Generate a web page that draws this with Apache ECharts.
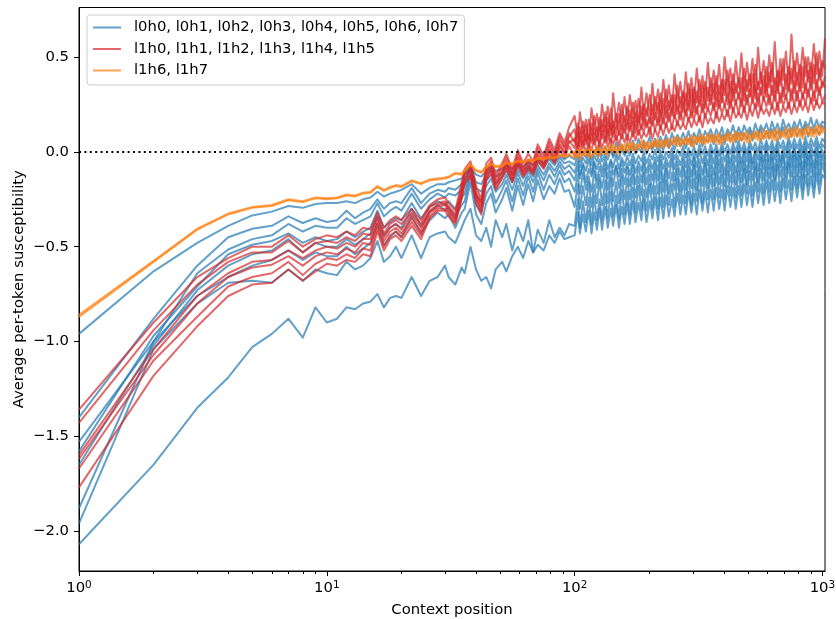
<!DOCTYPE html>
<html><head><meta charset="utf-8">
<script src="https://cdn.jsdelivr.net/npm/echarts@6/dist/echarts.min.js"></script>
<style>html,body{margin:0;padding:0;background:#fff}#c{width:836px;height:619px}</style>
</head><body><div id="c"></div><script>
// Context positions (shared by every series)
const X = [1,2,3,4,5,6,7,8,9,10,11,12,13,14,15,16,17,18,19,20,22,24,26,28,
  30,31,33,35,36,38,40,42,44,46,48,51,53,56,59,62,65,68,71,75,79,83,87,91,95,
  100,103,105,108,111,114,117,120,123,126,129,133,136,140,143,147,151,155,159,163,
  167,172,176,181,186,190,195,201,206,211,217,222,228,234,240,247,253,260,267,274,
  281,288,296,303,311,319,328,336,345,354,364,373,383,393,403,414,425,436,447,459,
  471,483,496,509,522,536,550,564,579,594,610,626,642,659,676,694,712,731,750,770,
  790,811,832,854,876,899,923,947,972,998,1024];

// Layer 0 heads (blue)
const l0_a = [-0.96,-0.63,-0.48,-0.39,-0.335,-0.315,-0.285,-0.295,-0.275,-0.27,-0.27,-0.26,-0.27,-0.25,-0.24,-0.21,-0.235,-0.22,-0.21,-0.20,-0.17,-0.22,-0.19,-0.17,
  -0.17,-0.16,-0.15,-0.14,-0.12,-0.08,-0.12,-0.13,-0.10,-0.08,-0.10,-0.09,-0.07,-0.09,-0.06,-0.08,-0.05,-0.07,-0.04,-0.06,-0.03,-0.05,-0.02,-0.04,-0.02,
  -0.04,0.01,-0.05,0.0,-0.03,0.02,-0.04,0.01,-0.02,0.03,-0.02,0.03,-0.01,0.04,-0.02,0.05,0.0,0.04,-0.01,0.05,
  0.01,0.06,0.0,0.07,0.02,0.06,0.03,0.08,0.02,0.07,0.03,0.08,0.04,0.09,0.03,0.10,0.05,0.09,0.06,0.10,
  0.06,0.11,0.05,0.10,0.07,0.12,0.06,0.11,0.08,0.12,0.07,0.12,0.08,0.13,0.07,0.12,0.09,0.14,0.08,0.13,
  0.09,0.14,0.10,0.13,0.09,0.15,0.10,0.14,0.11,0.15,0.10,0.16,0.11,0.15,0.10,0.17,0.12,0.15,0.11,0.16,
  0.12,0.17,0.11,0.16,0.13,0.18,0.12,0.17,0.13,0.16,0.15];
const l0_b = [-1.40,-0.88,-0.60,-0.45,-0.405,-0.39,-0.34,-0.375,-0.35,-0.37,-0.36,-0.31,-0.35,-0.32,-0.30,-0.25,-0.30,-0.27,-0.26,-0.27,-0.19,-0.27,-0.22,-0.20,
  -0.21,-0.19,-0.20,-0.17,-0.15,-0.08,-0.16,-0.17,-0.12,-0.10,-0.13,-0.11,-0.08,-0.12,-0.07,-0.10,-0.06,-0.11,-0.05,-0.08,-0.04,-0.07,-0.03,-0.06,-0.05,
  -0.07,-0.02,-0.08,-0.03,-0.06,-0.01,-0.07,-0.02,-0.05,0.0,-0.05,-0.01,-0.04,0.01,-0.03,0.0,-0.04,0.02,-0.02,0.01,
  -0.02,0.03,-0.01,0.02,0.0,0.04,-0.01,0.03,0.01,0.05,0.0,0.04,0.01,0.06,0.02,0.05,0.01,0.07,0.03,0.06,
  0.02,0.07,0.03,0.06,0.04,0.08,0.03,0.07,0.05,0.09,0.04,0.08,0.05,0.09,0.04,0.10,0.06,0.09,0.05,0.10,
  0.06,0.10,0.07,0.11,0.06,0.10,0.08,0.12,0.07,0.11,0.07,0.12,0.08,0.11,0.07,0.13,0.09,0.12,0.08,0.13,
  0.08,0.12,0.09,0.14,0.08,0.13,0.10,0.12,0.09,0.14,0.11];
const l0_c = [-1.53,-1.00,-0.64,-0.515,-0.46,-0.44,-0.38,-0.42,-0.39,-0.40,-0.40,-0.35,-0.38,-0.36,-0.34,-0.27,-0.34,-0.31,-0.29,-0.31,-0.22,-0.30,-0.25,-0.22,
  -0.24,-0.22,-0.23,-0.20,-0.18,-0.07,-0.19,-0.21,-0.15,-0.12,-0.17,-0.13,-0.10,-0.16,-0.09,-0.14,-0.08,-0.13,-0.07,-0.12,-0.06,-0.10,-0.05,-0.09,-0.07,
  -0.11,-0.05,-0.12,-0.06,-0.10,-0.04,-0.11,-0.05,-0.09,-0.04,-0.10,-0.03,-0.09,-0.04,-0.08,-0.02,-0.09,-0.03,-0.07,-0.02,
  -0.07,-0.01,-0.06,-0.02,-0.05,0.0,-0.06,-0.01,-0.04,0.01,-0.05,0.01,-0.04,0.0,-0.03,0.02,-0.04,0.01,-0.02,0.03,
  -0.03,0.02,-0.02,0.03,-0.03,0.04,-0.01,0.03,-0.02,0.04,-0.01,0.04,-0.02,0.05,0.0,0.04,-0.01,0.05,0.0,0.06,
  0.0,0.05,-0.01,0.06,0.01,0.05,0.0,0.07,0.01,0.06,0.01,0.06,0.0,0.07,0.02,0.06,0.01,0.08,0.02,0.07,
  0.02,0.07,0.01,0.08,0.02,0.07,0.03,0.08,0.02,0.07,0.05];
const l0_d = [-1.58,-0.97,-0.71,-0.54,-0.49,-0.47,-0.43,-0.48,-0.45,-0.47,-0.46,-0.42,-0.45,-0.42,-0.40,-0.31,-0.40,-0.37,-0.35,-0.36,-0.27,-0.35,-0.29,-0.26,
  -0.28,-0.26,-0.30,-0.24,-0.22,-0.10,-0.23,-0.26,-0.18,-0.14,-0.21,-0.17,-0.12,-0.20,-0.11,-0.18,-0.10,-0.16,-0.09,-0.15,-0.08,-0.13,-0.07,-0.12,-0.10,
  -0.15,-0.08,-0.14,-0.07,-0.16,-0.09,-0.13,-0.06,-0.15,-0.08,-0.13,-0.06,-0.14,-0.05,-0.12,-0.07,-0.13,-0.05,-0.11,-0.06,
  -0.12,-0.04,-0.11,-0.05,-0.10,-0.03,-0.11,-0.04,-0.09,-0.03,-0.10,-0.02,-0.09,-0.03,-0.08,-0.01,-0.09,-0.02,-0.07,-0.01,
  -0.08,0.0,-0.07,-0.01,-0.08,0.01,-0.06,0.0,-0.07,0.01,-0.06,0.01,-0.07,0.02,-0.05,0.01,-0.06,0.02,-0.05,0.03,
  -0.06,0.02,-0.05,0.03,-0.06,0.02,-0.04,0.03,-0.05,0.04,-0.05,0.03,-0.04,0.04,-0.05,0.03,-0.03,0.05,-0.04,0.04,
  -0.04,0.04,-0.03,0.05,-0.04,0.04,-0.02,0.05,-0.03,0.04,0.02];
const l0_e = [-1.65,-1.02,-0.73,-0.60,-0.54,-0.52,-0.46,-0.53,-0.48,-0.50,-0.50,-0.46,-0.49,-0.46,-0.43,-0.34,-0.44,-0.40,-0.38,-0.40,-0.30,-0.39,-0.32,-0.28,
  -0.31,-0.29,-0.34,-0.28,-0.26,-0.12,-0.28,-0.32,-0.22,-0.18,-0.27,-0.20,-0.15,-0.26,-0.14,-0.23,-0.13,-0.21,-0.11,-0.20,-0.12,-0.17,-0.10,-0.16,-0.14,
  -0.21,-0.12,-0.22,-0.11,-0.20,-0.13,-0.21,-0.10,-0.19,-0.12,-0.19,-0.09,-0.20,-0.10,-0.18,-0.08,-0.19,-0.09,-0.17,-0.08,
  -0.18,-0.07,-0.17,-0.08,-0.16,-0.06,-0.17,-0.07,-0.15,-0.06,-0.15,-0.05,-0.16,-0.06,-0.14,-0.04,-0.15,-0.05,-0.13,-0.04,
  -0.14,-0.04,-0.13,-0.03,-0.14,-0.04,-0.12,-0.03,-0.13,-0.02,-0.12,-0.02,-0.11,-0.03,-0.12,-0.01,-0.10,-0.02,-0.11,-0.01,
  -0.10,-0.01,-0.11,0.0,-0.09,-0.01,-0.10,0.0,-0.09,0.01,-0.09,0.0,-0.10,0.01,-0.08,0.0,-0.09,0.01,-0.08,0.02,
  -0.08,0.01,-0.09,0.02,-0.07,0.01,-0.08,0.02,-0.07,0.01,-0.04];
const l0_f = [-1.88,-1.00,-0.76,-0.66,-0.60,-0.57,-0.52,-0.57,-0.53,-0.55,-0.55,-0.50,-0.54,-0.51,-0.48,-0.38,-0.49,-0.45,-0.42,-0.45,-0.34,-0.43,-0.36,-0.32,
  -0.35,-0.33,-0.40,-0.32,-0.30,-0.16,-0.33,-0.38,-0.27,-0.22,-0.32,-0.25,-0.19,-0.31,-0.18,-0.28,-0.17,-0.26,-0.15,-0.25,-0.18,-0.22,-0.14,-0.21,-0.20,
  -0.29,-0.17,-0.30,-0.18,-0.28,-0.16,-0.29,-0.17,-0.27,-0.15,-0.28,-0.15,-0.27,-0.14,-0.26,-0.16,-0.27,-0.13,-0.25,-0.14,
  -0.25,-0.12,-0.24,-0.13,-0.23,-0.11,-0.24,-0.12,-0.22,-0.10,-0.22,-0.10,-0.21,-0.09,-0.22,-0.11,-0.20,-0.09,-0.21,-0.08,
  -0.20,-0.08,-0.19,-0.07,-0.20,-0.08,-0.18,-0.06,-0.19,-0.07,-0.18,-0.06,-0.17,-0.07,-0.18,-0.05,-0.16,-0.06,-0.17,-0.05,
  -0.16,-0.05,-0.17,-0.04,-0.15,-0.05,-0.16,-0.03,-0.15,-0.04,-0.14,-0.03,-0.15,-0.04,-0.13,-0.02,-0.14,-0.03,-0.13,-0.02,
  -0.13,-0.02,-0.14,-0.01,-0.12,-0.02,-0.13,-0.01,-0.12,-0.02,-0.08];
const l0_g = [-1.96,-1.04,-0.80,-0.69,-0.68,-0.69,-0.62,-0.68,-0.62,-0.64,-0.65,-0.58,-0.62,-0.60,-0.56,-0.47,-0.58,-0.55,-0.50,-0.56,-0.44,-0.56,-0.45,-0.43,
  -0.42,-0.45,-0.48,-0.40,-0.36,-0.30,-0.44,-0.47,-0.40,-0.50,-0.36,-0.45,-0.38,-0.52,-0.40,-0.47,-0.36,-0.53,-0.41,-0.48,-0.36,-0.45,-0.40,-0.44,-0.38,
  -0.39,-0.25,-0.40,-0.26,-0.37,-0.24,-0.38,-0.23,-0.36,-0.25,-0.36,-0.22,-0.35,-0.21,-0.34,-0.23,-0.35,-0.20,-0.33,-0.21,
  -0.33,-0.19,-0.32,-0.18,-0.31,-0.20,-0.31,-0.17,-0.30,-0.18,-0.30,-0.16,-0.29,-0.15,-0.28,-0.17,-0.29,-0.14,-0.27,-0.15,
  -0.27,-0.13,-0.28,-0.14,-0.26,-0.12,-0.27,-0.13,-0.25,-0.12,-0.25,-0.11,-0.24,-0.12,-0.25,-0.10,-0.23,-0.11,-0.24,-0.10,
  -0.23,-0.09,-0.22,-0.10,-0.23,-0.08,-0.21,-0.09,-0.22,-0.08,-0.21,-0.08,-0.20,-0.07,-0.21,-0.08,-0.19,-0.06,-0.20,-0.07,
  -0.19,-0.06,-0.20,-0.05,-0.18,-0.06,-0.19,-0.05,-0.17,-0.06,-0.12];
const l0_h = [-2.07,-1.65,-1.35,-1.19,-1.03,-0.96,-0.88,-0.98,-0.82,-0.90,-0.88,-0.82,-0.83,-0.80,-0.79,-0.75,-0.82,-0.77,-0.76,-0.77,-0.66,-0.76,-0.68,-0.66,
  -0.60,-0.66,-0.70,-0.61,-0.64,-0.50,-0.62,-0.68,-0.66,-0.72,-0.62,-0.58,-0.63,-0.55,-0.50,-0.56,-0.47,-0.53,-0.49,-0.52,-0.44,-0.48,-0.42,-0.46,-0.45,
  -0.44,-0.32,-0.43,-0.33,-0.42,-0.31,-0.43,-0.32,-0.41,-0.30,-0.41,-0.29,-0.40,-0.30,-0.39,-0.28,-0.40,-0.29,-0.38,-0.27,
  -0.38,-0.26,-0.37,-0.27,-0.36,-0.25,-0.37,-0.26,-0.35,-0.24,-0.36,-0.24,-0.35,-0.23,-0.34,-0.25,-0.34,-0.22,-0.33,-0.23,
  -0.33,-0.21,-0.32,-0.22,-0.33,-0.20,-0.31,-0.21,-0.32,-0.20,-0.31,-0.19,-0.30,-0.20,-0.31,-0.18,-0.29,-0.19,-0.30,-0.18,
  -0.29,-0.17,-0.28,-0.18,-0.29,-0.16,-0.27,-0.17,-0.28,-0.15,-0.27,-0.15,-0.26,-0.16,-0.27,-0.14,-0.25,-0.15,-0.26,-0.13,
  -0.24,-0.13,-0.25,-0.12,-0.23,-0.13,-0.24,-0.11,-0.22,-0.12,-0.14];

// Layer 1 heads 0-5 (red)
const l1_a = [-1.36,-0.90,-0.66,-0.56,-0.50,-0.50,-0.44,-0.50,-0.46,-0.44,-0.45,-0.42,-0.44,-0.40,-0.41,-0.32,-0.40,-0.36,-0.34,-0.36,-0.30,-0.36,-0.28,-0.25,
  -0.24,-0.27,-0.31,-0.16,-0.09,-0.05,-0.18,-0.25,-0.06,-0.03,-0.12,-0.06,-0.01,-0.09,0.01,-0.06,-0.01,-0.05,0.04,-0.02,0.07,0.01,0.10,0.05,0.13,
  0.19,0.08,0.21,0.10,0.17,0.07,0.23,0.12,0.20,0.11,0.25,0.13,0.24,0.12,0.31,0.16,0.26,0.15,0.29,0.17,
  0.30,0.18,0.27,0.16,0.34,0.20,0.31,0.19,0.36,0.22,0.33,0.21,0.38,0.24,0.35,0.22,0.41,0.26,0.37,0.25,
  0.42,0.27,0.39,0.26,0.44,0.29,0.40,0.28,0.47,0.30,0.43,0.31,0.46,0.30,0.50,0.33,0.44,0.32,0.48,0.34,
  0.52,0.33,0.47,0.35,0.49,0.32,0.55,0.36,0.48,0.34,0.51,0.37,0.58,0.35,0.49,0.38,0.53,0.36,0.62,0.39,
  0.52,0.38,0.55,0.40,0.50,0.39,0.57,0.41,0.53,0.40,0.60];
const l1_b = [-1.43,-0.94,-0.70,-0.58,-0.53,-0.53,-0.47,-0.53,-0.48,-0.47,-0.48,-0.45,-0.47,-0.43,-0.44,-0.34,-0.43,-0.38,-0.36,-0.38,-0.32,-0.38,-0.29,-0.27,
  -0.26,-0.29,-0.33,-0.19,-0.11,-0.07,-0.21,-0.27,-0.09,-0.05,-0.14,-0.08,-0.03,-0.11,-0.01,-0.08,-0.04,-0.07,0.02,-0.04,0.05,-0.01,0.08,0.03,0.10,
  0.05,0.15,0.07,0.16,0.06,0.17,0.09,0.19,0.08,0.18,0.11,0.21,0.10,0.23,0.13,0.20,0.12,0.25,0.14,0.24,
  0.15,0.26,0.16,0.28,0.17,0.25,0.19,0.30,0.18,0.29,0.20,0.31,0.19,0.33,0.22,0.30,0.21,0.35,0.23,0.32,
  0.24,0.36,0.23,0.34,0.26,0.38,0.25,0.37,0.27,0.39,0.28,0.40,0.27,0.38,0.30,0.43,0.29,0.41,0.31,0.39,
  0.30,0.44,0.32,0.41,0.29,0.46,0.33,0.42,0.31,0.45,0.34,0.47,0.32,0.43,0.35,0.49,0.33,0.45,0.36,0.48,
  0.35,0.46,0.34,0.50,0.37,0.47,0.36,0.52,0.38,0.48,0.44];
const l1_c = [-1.60,-1.04,-0.76,-0.64,-0.58,-0.57,-0.52,-0.56,-0.52,-0.50,-0.51,-0.48,-0.50,-0.46,-0.46,-0.36,-0.45,-0.40,-0.38,-0.41,-0.33,-0.40,-0.31,-0.28,
  -0.27,-0.30,-0.35,-0.21,-0.12,-0.09,-0.23,-0.28,-0.11,-0.06,-0.16,-0.10,-0.05,-0.12,-0.03,-0.10,-0.05,-0.09,0.0,-0.06,0.03,-0.03,0.06,0.02,0.08,
  0.12,0.03,0.13,0.05,0.14,0.04,0.15,0.07,0.13,0.06,0.17,0.08,0.18,0.09,0.16,0.10,0.20,0.11,0.19,0.12,
  0.22,0.12,0.21,0.13,0.24,0.14,0.23,0.15,0.25,0.17,0.26,0.16,0.28,0.18,0.27,0.19,0.30,0.20,0.29,0.21,
  0.31,0.22,0.33,0.21,0.32,0.24,0.35,0.23,0.34,0.25,0.36,0.24,0.35,0.26,0.38,0.25,0.37,0.27,0.36,0.28,
  0.39,0.27,0.38,0.29,0.41,0.28,0.37,0.30,0.40,0.29,0.42,0.30,0.39,0.31,0.43,0.29,0.41,0.32,0.44,0.31,
  0.42,0.32,0.45,0.31,0.43,0.33,0.46,0.32,0.44,0.34,0.40];
const l1_d = [-1.62,-1.07,-0.80,-0.66,-0.61,-0.595,-0.55,-0.60,-0.55,-0.53,-0.54,-0.51,-0.53,-0.48,-0.49,-0.38,-0.47,-0.42,-0.40,-0.43,-0.35,-0.42,-0.32,-0.29,
  -0.28,-0.31,-0.36,-0.22,-0.14,-0.10,-0.24,-0.30,-0.12,-0.08,-0.17,-0.11,-0.06,-0.14,-0.04,-0.11,-0.07,-0.10,-0.02,-0.07,0.01,-0.04,0.04,0.0,0.06,
  0.02,0.10,0.03,0.11,0.04,0.09,0.05,0.12,0.06,0.13,0.07,0.14,0.06,0.15,0.08,0.16,0.09,0.14,0.10,0.17,
  0.11,0.18,0.10,0.19,0.12,0.20,0.13,0.18,0.14,0.21,0.14,0.22,0.15,0.24,0.16,0.23,0.18,0.25,0.17,0.26,
  0.19,0.27,0.18,0.28,0.20,0.29,0.21,0.27,0.22,0.30,0.22,0.31,0.23,0.30,0.24,0.32,0.23,0.33,0.25,0.31,
  0.24,0.34,0.25,0.33,0.26,0.35,0.24,0.34,0.27,0.36,0.25,0.35,0.27,0.37,0.26,0.34,0.28,0.36,0.27,0.38,
  0.27,0.37,0.28,0.36,0.29,0.39,0.27,0.38,0.30,0.37,0.34];
const l1_e = [-1.67,-1.10,-0.87,-0.71,-0.66,-0.64,-0.58,-0.65,-0.59,-0.56,-0.57,-0.54,-0.56,-0.51,-0.52,-0.40,-0.50,-0.44,-0.42,-0.45,-0.37,-0.44,-0.34,-0.30,
  -0.30,-0.32,-0.37,-0.24,-0.15,-0.12,-0.25,-0.31,-0.14,-0.09,-0.19,-0.13,-0.07,-0.15,-0.06,-0.12,-0.08,-0.11,-0.03,-0.08,0.0,-0.05,0.03,-0.01,0.05,
  0.07,0.01,0.08,0.02,0.09,0.01,0.10,0.04,0.08,0.03,0.11,0.05,0.12,0.04,0.13,0.06,0.11,0.07,0.14,0.06,
  0.15,0.08,0.16,0.09,0.14,0.10,0.17,0.09,0.18,0.11,0.19,0.12,0.18,0.13,0.21,0.12,0.20,0.14,0.22,0.15,
  0.23,0.16,0.22,0.17,0.24,0.16,0.25,0.18,0.23,0.19,0.26,0.18,0.27,0.20,0.25,0.19,0.28,0.21,0.27,0.20,
  0.29,0.21,0.30,0.22,0.28,0.23,0.31,0.22,0.29,0.24,0.30,0.23,0.32,0.22,0.31,0.24,0.30,0.23,0.33,0.24,
  0.32,0.24,0.31,0.25,0.33,0.26,0.32,0.25,0.34,0.26,0.30];
const l1_f = [-1.77,-1.18,-0.92,-0.76,-0.70,-0.69,-0.62,-0.68,-0.63,-0.59,-0.60,-0.57,-0.58,-0.54,-0.55,-0.42,-0.52,-0.46,-0.44,-0.47,-0.39,-0.46,-0.35,-0.31,
  -0.31,-0.34,-0.38,-0.25,-0.17,-0.13,-0.27,-0.33,-0.15,-0.11,-0.20,-0.14,-0.09,-0.16,-0.07,-0.13,-0.09,-0.12,-0.05,-0.09,-0.02,-0.06,0.01,-0.03,0.03,
  -0.02,0.05,-0.01,0.06,0.0,0.04,0.01,0.07,0.0,0.06,0.02,0.08,0.03,0.07,0.04,0.09,0.03,0.10,0.05,0.09,
  0.05,0.11,0.06,0.12,0.07,0.10,0.08,0.13,0.07,0.12,0.08,0.14,0.09,0.15,0.10,0.14,0.11,0.16,0.12,0.15,
  0.12,0.18,0.13,0.17,0.14,0.19,0.13,0.20,0.15,0.18,0.15,0.21,0.16,0.20,0.17,0.22,0.16,0.23,0.18,0.21,
  0.18,0.24,0.17,0.23,0.19,0.25,0.18,0.24,0.20,0.23,0.19,0.25,0.20,0.26,0.19,0.24,0.21,0.26,0.20,0.25,
  0.21,0.27,0.22,0.26,0.21,0.28,0.22,0.27,0.23,0.26,0.25];

// Layer 1 heads 6-7 (orange)
const l1_g = [-0.87,-0.58,-0.41,-0.33,-0.295,-0.285,-0.255,-0.265,-0.245,-0.25,-0.245,-0.23,-0.235,-0.22,-0.215,-0.185,-0.205,-0.19,-0.18,-0.185,-0.155,-0.17,-0.15,-0.145,
  -0.14,-0.135,-0.115,-0.12,-0.10,-0.07,-0.10,-0.11,-0.08,-0.065,-0.08,-0.075,-0.06,-0.065,-0.05,-0.055,-0.045,-0.05,-0.035,-0.04,-0.03,-0.035,-0.02,-0.025,-0.015,
  -0.03,0.01,-0.04,0.01,-0.02,0.02,-0.03,0.01,-0.02,0.02,-0.01,0.03,-0.02,0.04,0.0,0.03,-0.01,0.04,0.0,0.05,
  0.01,0.05,0.0,0.04,0.02,0.06,0.01,0.05,0.02,0.06,0.02,0.06,0.03,0.07,0.02,0.06,0.04,0.08,0.03,0.07,
  0.04,0.07,0.03,0.08,0.05,0.09,0.04,0.08,0.05,0.09,0.05,0.09,0.04,0.08,0.06,0.10,0.05,0.09,0.06,0.10,
  0.06,0.10,0.05,0.09,0.07,0.11,0.06,0.10,0.07,0.11,0.07,0.11,0.06,0.12,0.08,0.11,0.07,0.12,0.08,0.13,
  0.08,0.12,0.07,0.13,0.09,0.12,0.08,0.14,0.09,0.13,0.11];
const l1_h = [-0.86,-0.575,-0.405,-0.325,-0.29,-0.28,-0.25,-0.26,-0.24,-0.245,-0.24,-0.225,-0.23,-0.215,-0.21,-0.18,-0.20,-0.185,-0.175,-0.18,-0.15,-0.165,-0.145,-0.14,
  -0.135,-0.13,-0.11,-0.115,-0.095,-0.065,-0.095,-0.105,-0.075,-0.06,-0.075,-0.07,-0.055,-0.06,-0.045,-0.05,-0.04,-0.045,-0.03,-0.035,-0.025,-0.03,-0.015,-0.02,-0.01,
  0.0,-0.03,0.02,-0.02,0.01,-0.03,0.02,-0.01,0.03,-0.02,0.02,-0.01,0.03,0.0,0.04,-0.01,0.03,0.01,0.04,0.0,
  0.05,0.01,0.04,0.02,0.06,0.01,0.05,0.02,0.06,0.03,0.07,0.02,0.06,0.03,0.07,0.04,0.08,0.03,0.07,0.04,
  0.08,0.04,0.09,0.03,0.08,0.05,0.09,0.04,0.10,0.05,0.09,0.05,0.10,0.04,0.09,0.06,0.10,0.05,0.11,0.06,
  0.10,0.06,0.11,0.05,0.10,0.07,0.11,0.06,0.12,0.07,0.11,0.07,0.12,0.06,0.11,0.08,0.13,0.07,0.12,0.08,
  0.13,0.08,0.12,0.09,0.14,0.08,0.13,0.09,0.14,0.10,0.12];

// Tick labels
const xMajor = [1, 10, 100, 1000];
const xMinor = [2,3,4,5,6,7,8,9,20,30,40,50,60,70,80,90,200,300,400,500,600,700,800,900];
const yTicks = [-2, -1.5, -1, -0.5, 0, 0.5];
const legendNames = ['l0h0, l0h1, l0h2, l0h3, l0h4, l0h5, l0h6, l0h7', 'l1h0, l1h1, l1h2, l1h3, l1h4, l1h5', 'l1h6, l1h7'];

const groups = [
  {name: legendNames[0], color: 'rgba(31,119,180,0.7)', arrays: [l0_a,l0_b,l0_c,l0_d,l0_e,l0_f,l0_g,l0_h]},
  {name: legendNames[1], color: 'rgba(214,39,40,0.7)', arrays: [l1_a,l1_b,l1_c,l1_d,l1_e,l1_f]},
  {name: legendNames[2], color: 'rgba(255,127,14,0.7)', arrays: [l1_g,l1_h]}
];

const FONT = 'DejaVu Sans';
const FS = 14.8;
const XMAX = 1024;
const LMAX = Math.log10(XMAX);
const series = [];
groups.forEach(g => {
  g.arrays.forEach(arr => {
    series.push({
      type: 'line', name: g.name, xAxisIndex: 0, yAxisIndex: 0,
      data: X.map((x, i) => [x, arr[i]]),
      symbol: 'none', showSymbol: false, color: g.color,
      lineStyle: {color: g.color, width: 2, cap: 'butt', join: 'round'},
      emphasis: {disabled: true}, silent: true, animation: false
    });
  });
});
series[series.length - 1].markLine = {
  silent: true, symbol: ['none', 'none'], animation: false,
  label: {show: false},
  lineStyle: {color: '#000', width: 2, type: [2, 3.4], cap: 'butt'},
  emphasis: {disabled: true},
  data: [{yAxis: 0}]
};

const chart = echarts.init(document.getElementById('c'), null, {renderer: 'canvas'});
chart.setOption({
  animation: false,
  backgroundColor: '#fff',
  textStyle: {fontFamily: FONT},
  grid: {left: 79, right: 11, top: 7.5, bottom: 48, show: true, borderColor: '#000', borderWidth: 1,
    containLabel: false, outerBoundsMode: 'none'},
  legend: {
    data: legendNames, orient: 'vertical', left: 87, top: 15,
    icon: 'rect', itemWidth: 28, itemHeight: 2, itemGap: 4.5,
    padding: [4, 6, 6, 6],
    backgroundColor: 'rgba(255,255,255,0.8)', borderColor: '#cccccc', borderWidth: 1, borderRadius: 3,
    textStyle: {fontFamily: FONT, fontSize: FS, color: '#000', lineHeight: 17, padding: [0, 0, 0, 8]},
    selectedMode: false
  },
  xAxis: [
    {type: 'log', logBase: 10, min: 1, max: XMAX, show: false, gridIndex: 0},
    {type: 'value', min: 0, max: LMAX, position: 'bottom', gridIndex: 0,
      name: 'Context position', nameLocation: 'middle', nameGap: 31.5,
      nameTextStyle: {fontFamily: FONT, fontSize: FS, color: '#000'},
      axisLine: {show: true, lineStyle: {color: '#000', width: 1}},
      axisTick: {show: true, length: 5, lineStyle: {color: '#000', width: 1}, customValues: xMajor.map(v => Math.log10(v))},
      axisLabel: {show: true, margin: 9, customValues: xMajor.map(v => Math.log10(v)),
        formatter: v => '{a|10}{b|' + Math.round(v) + '}',
        rich: {a: {fontFamily: FONT, fontSize: FS, color: '#000', lineHeight: 16},
               b: {fontFamily: FONT, fontSize: 10.5, color: '#000', lineHeight: 10, verticalAlign: 'top'}}},
      splitLine: {show: false}},
    {type: 'value', min: 0, max: LMAX, position: 'bottom', gridIndex: 0,
      axisLine: {show: false},
      axisTick: {show: true, length: 3, lineStyle: {color: '#000', width: 1}, customValues: xMinor.map(v => Math.log10(v))},
      axisLabel: {show: false}, splitLine: {show: false}}
  ],
  yAxis: [{
    type: 'value', min: -2.211, max: 0.762, gridIndex: 0,
    name: 'Average per-token susceptibility', nameLocation: 'middle', nameGap: 52, nameMoveOverlap: false,
    nameTextStyle: {fontFamily: FONT, fontSize: FS, color: '#000'},
    axisLine: {show: true, lineStyle: {color: '#000', width: 1}},
    axisTick: {show: true, length: 5, lineStyle: {color: '#000', width: 1}, customValues: yTicks},
    axisLabel: {show: true, margin: 10, customValues: yTicks, fontFamily: FONT, fontSize: FS, color: '#000',
      formatter: v => (v < 0 ? '\u2212' : '') + Math.abs(v).toFixed(1)},
    splitLine: {show: false}
  }],
  series: series
});
</script></body></html>
